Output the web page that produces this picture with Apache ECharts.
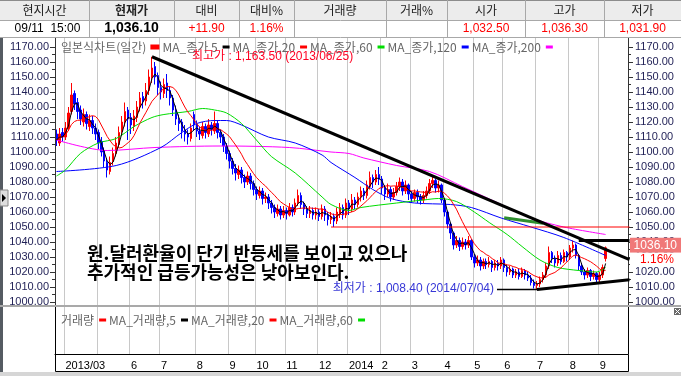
<!DOCTYPE html>
<html>
<head>
<meta charset="utf-8">
<script src="https://cdn.jsdelivr.net/npm/echarts@6/dist/echarts.min.js"></script>
<style>
html, body { margin: 0; padding: 0; background: #fff; }
#chart { width: 681px; height: 376px; }
</style>
</head>
<body>
<div id="chart"></div>
<script>
// 원/달러 일봉 (2거래일 단위로 읽은 값) [시가, 종가, 저가, 고가]
const candles = [
  [1112,1108,1104,1115],[1106,1112,1104,1116],[1113,1110,1107,1116],[1110,1116,1108,1120],[1116,1126,1114,1130],
  [1127,1138,1125,1146],[1139,1132,1128,1141],[1133,1127,1122,1136],[1128,1122,1118,1131],[1120,1125,1117,1129],
  [1125,1119,1115,1127],[1117,1121,1114,1125],[1121,1116,1112,1124],[1116,1112,1108,1119],[1113,1106,1102,1115],
  [1107,1100,1097,1110],[1101,1094,1090,1103],[1093,1088,1083,1096],[1087,1093,1085,1097],[1094,1099,1091,1103],
  [1099,1106,1097,1110],[1105,1113,1103,1117],[1114,1120,1111,1124],[1120,1127,1117,1133],[1128,1122,1108,1130],
  [1123,1118,1112,1126],[1117,1124,1114,1128],[1123,1130,1120,1134],[1130,1136,1127,1140],[1137,1134,1129,1140],
  [1134,1141,1131,1146],[1141,1150,1138,1155],[1150,1156,1146,1163.5],[1157,1150,1145,1160],[1151,1143,1138,1153],
  [1143,1140,1135,1147],[1139,1145,1136,1149],[1146,1141,1136,1152],[1141,1136,1131,1144],[1136,1128,1124,1138],
  [1128,1122,1118,1131],[1121,1119,1114,1125],[1120,1114,1109,1122],[1114,1112,1107,1118],[1112,1110,1105,1115],
  [1109,1116,1107,1119],[1125,1118,1114,1127],[1118,1114,1110,1121],[1114,1112,1108,1117],[1111,1117,1109,1120],
  [1117,1113,1109,1119],[1112,1118,1110,1122],[1118,1115,1111,1120],[1114,1119,1112,1127],[1119,1113,1109,1121],
  [1113,1110,1106,1115],[1110,1104,1100,1112],[1104,1099,1095,1106],[1099,1094,1089,1101],[1094,1089,1085,1096],
  [1089,1086,1081,1092],[1085,1088,1082,1091],[1088,1083,1079,1090],[1083,1080,1076,1085],[1080,1084,1078,1087],
  [1084,1079,1075,1086],[1079,1075,1071,1081],[1075,1072,1068,1077],[1071,1074,1069,1077],[1074,1069,1065,1076],
  [1069,1070,1066,1073],[1070,1066,1062,1072],[1066,1063,1059,1068],[1063,1060,1056,1065],[1059,1062,1057,1065],
  [1062,1058,1055,1064],[1058,1061,1056,1064],[1061,1059,1055,1063],[1058,1063,1057,1066],[1063,1060,1057,1065],
  [1060,1066,1058,1069],[1066,1071,1064,1075],[1071,1065,1062,1073],[1065,1062,1058,1067],[1062,1059,1056,1064],
  [1059,1061,1056,1064],[1061,1058,1055,1063],[1058,1060,1055,1063],[1060,1057,1054,1062],[1057,1062,1055,1065],
  [1062,1058,1054,1064],[1058,1055,1051,1060],[1055,1057,1052,1060],[1057,1054,1050,1059],[1054,1060,1052,1063],
  [1059,1063,1056,1066],[1063,1058,1055,1065],[1058,1066,1056,1069],[1066,1062,1058,1068],[1062,1068,1060,1072],
  [1068,1065,1062,1070],[1065,1070,1063,1073],[1070,1074,1067,1077],[1074,1071,1068,1076],[1071,1078,1069,1081],
  [1077,1083,1075,1087],[1083,1080,1076,1085],[1080,1085,1078,1088],[1085,1082,1078,1090],[1082,1076,1072,1084],
  [1076,1072,1068,1078],[1072,1075,1070,1079],[1075,1070,1067,1077],[1070,1073,1068,1076],[1073,1077,1071,1080],
  [1077,1080,1074,1083],[1080,1074,1071,1082],[1074,1078,1072,1081],[1078,1072,1068,1079],[1072,1069,1066,1074],
  [1069,1073,1067,1075],[1073,1070,1066,1075],[1070,1068,1065,1072],[1068,1071,1066,1074],[1071,1074,1069,1077],
  [1074,1079,1072,1082],[1079,1081,1076,1084],[1081,1076,1073,1082],[1076,1078,1073,1081],[1078,1068,1066,1079],
  [1068,1060,1057,1069],[1060,1052,1049,1061],[1052,1046,1042,1053],[1046,1038,1035,1047],[1038,1041,1036,1044],
  [1041,1037,1034,1043],[1037,1040,1035,1043],[1040,1038,1035,1042],[1038,1041,1036,1044],[1041,1030,1028,1042],
  [1030,1026,1023,1032],[1026,1028,1024,1031],[1028,1024,1021,1030],[1024,1027,1022,1029],[1027,1025,1022,1029],
  [1025,1027,1023,1030],[1027,1023,1020,1028],[1023,1026,1021,1028],[1026,1024,1021,1028],[1024,1028,1022,1030],
  [1028,1023,1020,1029],[1023,1020,1017,1025],[1020,1022,1018,1024],[1022,1018,1016,1023],[1018,1020,1016,1022],
  [1020,1017,1015,1022],[1017,1021,1016,1023],[1021,1018,1015,1022],[1018,1016,1014,1020],[1016,1013,1011,1018],
  [1013,1011,1009,1015],[1011,1012,1008.4,1014],[1012,1015,1010,1017],[1015,1018,1013,1020],[1018,1024,1016,1026],
  [1024,1033,1022,1037],[1033,1029,1026,1034],[1029,1026,1023,1031],[1026,1031,1024,1034],[1031,1027,1025,1033],
  [1027,1033,1026,1035],[1033,1030,1027,1034],[1030,1036,1028,1038],[1036,1038,1033,1041],[1038,1031,1029,1039],
  [1031,1024,1021,1032],[1024,1020,1018,1026],[1020,1018,1015,1022],[1018,1021,1016,1023],[1021,1017,1014,1022],
  [1017,1019,1015,1021],[1019,1015,1013,1020],[1015,1018,1013,1020],[1018,1023,1016,1025],[1029,1036.1,1027,1037]
]

// 이동평균선 (그림에서 읽은 점) [봉 순번, 값]
const ma60 = [[0,1084],[3,1088],[8,1099],[14,1106],[20,1109],[26,1117],[32,1123],[36,1125],[44,1127],[49,1129],[53,1128],
  [57,1126],[62,1119],[67,1108],[72,1097],[80,1086],[89,1070],[92,1065],[98,1061],[102,1063],[114,1066],[123,1068],
  [128,1069],[134,1067],[140,1060],[145,1053],[151,1045],[156,1037],[162,1028],[168,1023],[175,1021],[181,1020],[184,1023]]
const ma120 = [[0,1087],[20,1091],[35,1103],[42,1113],[47,1119],[53,1121],[57,1121],[62,1118],[71,1110],[80,1106],
  [89,1098],[92,1093],[100,1083],[106,1075],[112,1069],[120,1066],[132,1065],[139,1063],[149,1056],[159,1050],[170,1043],[184,1031]]
const ma200 = [[0,1108],[17,1101],[33,1103],[55,1104],[78,1103],[92,1100],[98,1099],[103,1096],[114,1091],[125,1087],
  [136,1077],[148,1066],[159,1056],[170,1050],[184,1045]]

// x축 월 눈금 [봉 순번, 라벨]
const monthTicks = [[3,'2013/03'],[14,''],[25,'6'],[35,'7'],[47,'8'],[58,'9'],[67,'10'],[77,'11'],[88,'12'],
  [98,'2014'],[109,'2'],[119,'3'],[130,'4'],[140,'5'],[150,'6'],[161,'7'],[172,'8'],[182,'9']]

// 추세선 [봉 순번, 가격]
const trendDown = [[32,1163.5],[192,1028.3]]
const trendUp = [[161,1008.4],[192,1014.9]]
const resistLine = [[175,1041],[192,1041]]
const greenLine = [[150,1056.2],[163,1052.5]]
const redLevel = [[92,1050],[192,1050]]

const headerNames = ['현지시간','현재가','대비','대비%','거래량','거래%','시가','고가','저가']
const headerValues = ['09/11  15:00','1,036.10','+11.90','1.16%','','','1,032.50','1,036.30','1,031.90']
const highLabel = '최고가 : 1,163.50 (2013/06/25)'
const lowLabel = '최저가 : 1,008.40 (2014/07/04)'
const comment = ['원.달러환율이 단기 반등세를 보이고 있으나', '추가적인 급등가능성은 낮아보인다.']
const lastClose = 1036.1
const changePct = '1.16%'

const emptyTail = 7
const categories = candles.map((_, i) => 'd' + i).concat(Array.from({ length: emptyTail }, (_, i) => 'e' + i))
const tickSet = new Set(monthTicks.map(t => t[0]))
const tickLabel = {}
monthTicks.forEach(t => (tickLabel[t[0]] = t[1]))

const closes = candles.map(c => c[1])
function movingAverage(values, n) {
  return values.map((v, i) => {
    const s = values.slice(Math.max(0, i - n + 1), i + 1)
    return +(s.reduce((a, b) => a + b, 0) / s.length).toFixed(2)
  })
}
const ma5 = movingAverage(closes, 3)
const ma20 = movingAverage(closes, 10)

const KR = "'Noto Sans CJK KR'"
const LAT = "'Liberation Sans', 'Noto Sans CJK KR'"
const isTick = i => tickSet.has(i)

const chart = echarts.init(document.getElementById('chart'))

function maLine(name, data, color) {
  return {
    name: name,
    type: 'line',
    xAxisIndex: 1,
    yAxisIndex: 1,
    data: data,
    symbol: 'none',
    smooth: 0.3,
    lineStyle: { width: 1, color: color },
    itemStyle: { color: color },
  }
}

const yLabel = { color: '#1f1f55', fontSize: 11, fontFamily: 'Liberation Sans', formatter: v => v.toFixed(2) }

const option = {
  animation: false,
  backgroundColor: '#fff',
  grid: [
    { left: 55, right: 53, top: 38, bottom: 22 },
    { left: 55, right: 53, top: 47, bottom: 74 },
    { left: 55, right: 53, top: 307, bottom: 22 },
  ],
  legend: [
    {
      left: 61,
      top: 41,
      padding: 0,
      align: 'right',
      icon: 'rect',
      itemWidth: 7,
      itemHeight: 3,
      itemGap: 3,
      selectedMode: false,
      textStyle: { color: '#666', fontSize: 12, fontFamily: KR },
      data: [
        { name: '일본식차트(일간)', itemStyle: { color: '#ff0000' } },
        'MA_종가 5', 'MA_종가,20', 'MA_종가,60', 'MA_종가,120', 'MA_종가,200',
      ],
    },
    {
      left: 61,
      top: 314,
      padding: 0,
      align: 'right',
      icon: 'rect',
      itemWidth: 7,
      itemHeight: 3,
      itemGap: 3,
      selectedMode: false,
      textStyle: { color: '#666', fontSize: 12, fontFamily: KR },
      data: ['거래량', 'MA_거래량,5', 'MA_거래량,20', 'MA_거래량,60'],
    },
  ],
  xAxis: [
    {
      gridIndex: 0,
      type: 'category',
      data: categories,
      axisLine: { show: false },
      axisTick: { show: false, interval: isTick },
      axisLabel: { show: false },
      splitLine: { show: true, interval: isTick, lineStyle: { color: '#c8c8c8', width: 1 } },
    },
    { gridIndex: 1, type: 'category', data: categories, show: false },
    {
      gridIndex: 2,
      type: 'category',
      data: categories,
      axisLine: { lineStyle: { color: '#000' } },
      axisTick: { interval: isTick, length: 4, lineStyle: { color: '#000' } },
      axisLabel: {
        interval: isTick,
        formatter: (v, i) => tickLabel[i] || '',
        align: 'left',
        margin: 6,
        color: '#000',
        fontSize: 11,
        fontFamily: 'Liberation Sans',
      },
      splitLine: { show: false },
    },
  ],
  yAxis: [
    { gridIndex: 0, type: 'value', show: false },
    {
      gridIndex: 1,
      type: 'value',
      position: 'left',
      min: 1000,
      max: 1170,
      interval: 10,
      axisLine: { show: true, lineStyle: { color: '#333' } },
      axisTick: { show: true, length: 5, lineStyle: { color: '#333' } },
      minorTick: { show: true, splitNumber: 2, length: 3, lineStyle: { color: '#333' } },
      axisLabel: Object.assign({ margin: 6 }, yLabel),
      splitLine: { show: false },
    },
    {
      gridIndex: 1,
      type: 'value',
      position: 'right',
      min: 1000,
      max: 1170,
      interval: 10,
      axisLine: { show: true, lineStyle: { color: '#333' } },
      axisTick: { show: true, length: 5, lineStyle: { color: '#333' } },
      minorTick: { show: true, splitNumber: 2, length: 3, lineStyle: { color: '#333' } },
      axisLabel: Object.assign({ margin: 7 }, yLabel),
      splitLine: { show: false },
    },
    { gridIndex: 2, type: 'value', show: false },
  ],
  series: [
    {
      name: '일본식차트(일간)',
      type: 'candlestick',
      xAxisIndex: 1,
      yAxisIndex: 1,
      data: candles,
      barWidth: 2,
      itemStyle: {
        color: '#ff0000',
        color0: '#0000ff',
        borderColor: '#ff0000',
        borderColor0: '#0000ff',
        borderWidth: 1,
      },
    },
    maLine('MA_종가,200', ma200, '#ff00ff'),
    maLine('MA_종가,120', ma120, '#0000ff'),
    maLine('MA_종가,60', ma60, '#00dd00'),
    Object.assign(maLine('MA_종가,20', ma20, '#ff0000'), { smooth: false }),
    Object.assign(maLine('MA_종가 5', ma5, '#000000'), { smooth: false }),
    { name: '거래량', type: 'bar', xAxisIndex: 2, yAxisIndex: 3, data: [], itemStyle: { color: '#ff0000' } },
    { name: 'MA_거래량,5', type: 'line', xAxisIndex: 2, yAxisIndex: 3, data: [], itemStyle: { color: '#000' } },
    { name: 'MA_거래량,20', type: 'line', xAxisIndex: 2, yAxisIndex: 3, data: [], itemStyle: { color: '#ff0000' } },
    { name: 'MA_거래량,60', type: 'line', xAxisIndex: 2, yAxisIndex: 3, data: [], itemStyle: { color: '#00dd00' } },
  ],
}

chart.setOption(option)

const px = p => chart.convertToPixel({ seriesIndex: 0 }, p)
function seg(pts, color, width) {
  const a = px(pts[0])
  const b = px(pts[1])
  return { type: 'line', z: 110, shape: { x1: a[0], y1: a[1], x2: b[0], y2: b[1] }, style: { stroke: color, lineWidth: width } }
}
function txt(x, y, text, font, fill, align) {
  return { type: 'text', z: 120, x: x, y: y, style: { text: text, font: font, fill: fill, textAlign: align || 'left', textVerticalAlign: 'middle' } }
}
function hline(x1, x2, y, color, w) {
  return { type: 'line', z: 105, shape: { x1: x1, y1: y, x2: x2, y2: y }, style: { stroke: color, lineWidth: w || 1 } }
}
function vline(x, y1, y2, color, w) {
  return { type: 'line', z: 105, shape: { x1: x, y1: y1, x2: x, y2: y2 }, style: { stroke: color, lineWidth: w || 1 } }
}

const g = []
// 상단 시세 표
const cols = [0, 89, 174, 239, 294, 386, 447, 525, 604, 681]
g.push({ type: 'rect', z: 100, shape: { x: 0, y: 0, width: 681, height: 20 }, style: { fill: '#ececec' } })
g.push({ type: 'rect', z: 100, shape: { x: 0, y: 20, width: 681, height: 17 }, style: { fill: '#fff' } })
g.push(hline(0, 681, 0.5, '#8c8c8c'), hline(0, 681, 20.5, '#a8a8a8'), hline(0, 681, 37.5, '#a8a8a8'))
for (let k = 1; k < cols.length - 1; k++) g.push(vline(cols[k] + 0.5, 0, 37, '#a8a8a8'))
headerNames.forEach((name, k) => {
  const cx = (cols[k] + cols[k + 1]) / 2
  g.push(txt(cx, 10.5, name, (k === 1 ? 'bold ' : '') + '12px ' + KR, '#222', 'center'))
  const val = headerValues[k]
  if (val) {
    const font = k === 1 ? "bold 14px 'Liberation Sans'" : "12px 'Liberation Sans'"
    g.push(txt(k === 0 ? cx + 3 : cx, 28.5, val, font, k < 2 ? '#000' : '#ff0000', 'center'))
  }
})

// 좌측 / 하단 장식
g.push({ type: 'rect', z: 100, shape: { x: 0, y: 37, width: 3, height: 335 }, style: { fill: '#555b62' } })
g.push({ type: 'rect', z: 101, shape: { x: 0, y: 190, width: 8, height: 16 }, style: { fill: '#dedede', stroke: '#888', lineWidth: 1 } })
g.push({ type: 'polygon', z: 102, shape: { points: [[2, 194], [6, 198], [2, 202]] }, style: { fill: '#000' } })
g.push({ type: 'rect', z: 100, shape: { x: 0, y: 305, width: 681, height: 2 }, style: { fill: '#a9a9a9' } })
g.push({ type: 'rect', z: 100, shape: { x: 0, y: 372, width: 681, height: 4 }, style: { fill: '#d6d6d6' } })
g.push({ type: 'rect', z: 100, shape: { x: 674, y: 308, width: 7, height: 7 }, style: { fill: '#6a6a6a' } })
g.push({ type: 'line', z: 101, shape: { x1: 675, y1: 309, x2: 680, y2: 314 }, style: { stroke: '#fff', lineWidth: 1 } })
g.push({ type: 'line', z: 101, shape: { x1: 680, y1: 309, x2: 675, y2: 314 }, style: { stroke: '#fff', lineWidth: 1 } })
g.push(vline(55.5, 38, 305, '#333'), vline(628.5, 38, 305, '#333'))
g.push(vline(55.5, 307, 354, '#000'), vline(628.5, 307, 354, '#000'))
g.push({ type: 'rect', z: 105, shape: { x: 55.5, y: 354.5, width: 573, height: 17 }, style: { fill: 'none', stroke: '#000', lineWidth: 1 } })

// 추세선
g.push(seg(redLevel, '#ff0000', 1))
g.push(seg(greenLine, '#2f8f2f', 3))
g.push(seg(trendDown, '#000', 3))
g.push(seg(trendUp, '#000', 3))
g.push(seg(resistLine, '#000', 3))

// 최고가 / 최저가 표시
const hi = px([32, 1163.5])
g.push(txt(hi[0] + 40, hi[1], highLabel, '12px ' + LAT, '#ff0022'))
const lo = px([161, 1008.4])
g.push({ type: 'line', z: 110, shape: { x1: lo[0] - 40, y1: lo[1], x2: lo[0], y2: lo[1] }, style: { stroke: '#000', lineWidth: 1.5 } })
g.push(txt(lo[0] - 43, lo[1] - 1, lowLabel, '12px ' + LAT, '#3737d6', 'right'))

// 코멘트
g.push(txt(87, 253, comment[0], 'bold 18px ' + KR, '#000'))
g.push(txt(87, 272, comment[1], 'bold 18px ' + KR, '#000'))

// 현재가 태그
const lc = px([candles.length - 1, lastClose])
g.push({ type: 'rect', z: 115, shape: { x: 630, y: lc[1] - 10, width: 51, height: 15 }, style: { fill: '#f07878' } })
g.push(txt(677, lc[1] - 2.5, lastClose.toFixed(2), "12px 'Liberation Sans'", '#fff', 'right'))
g.push({ type: 'rect', z: 115, shape: { x: 630, y: lc[1] + 5, width: 51, height: 13 }, style: { fill: '#fff' } })
g.push(txt(657, lc[1] + 11.5, changePct, "12px 'Liberation Sans'", '#ff0000', 'center'))

chart.setOption({ graphic: g })
</script>
</body>
</html>
